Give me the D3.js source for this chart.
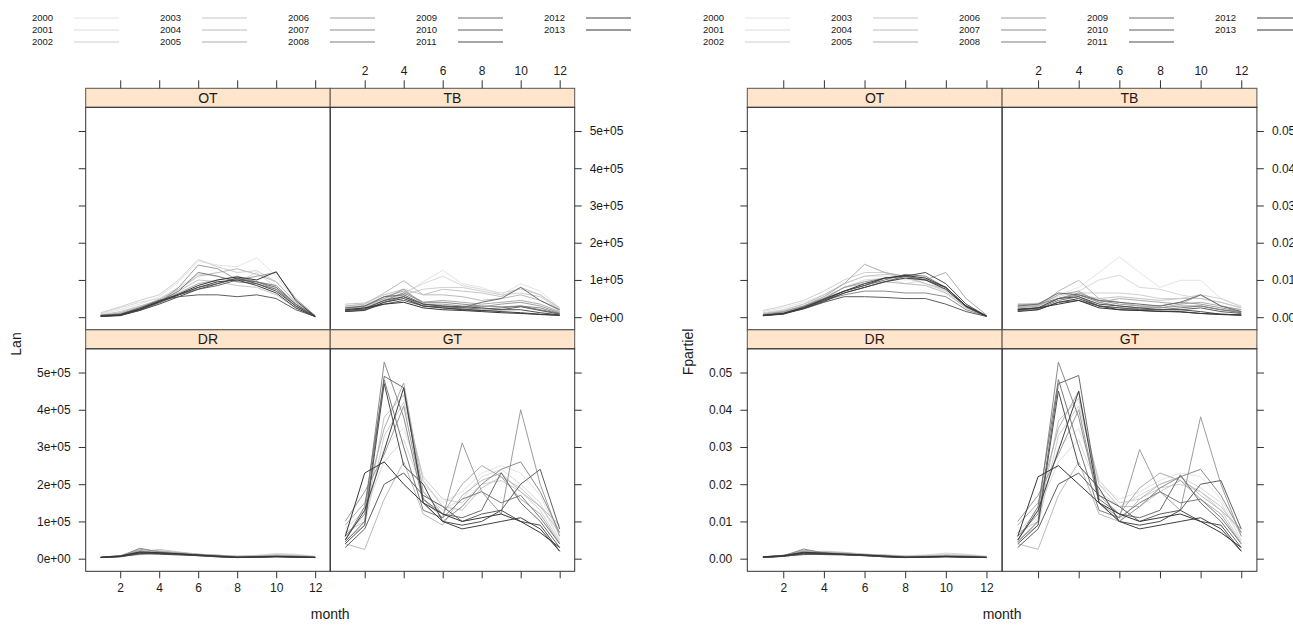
<!DOCTYPE html>
<html>
<head>
<meta charset="utf-8">
<script src="https://cdn.jsdelivr.net/npm/d3@7"></script>
<style>
  body { margin: 0; background: #fff; }
  text { font-family: "Liberation Sans", Arial, sans-serif; fill: #1a1a1a; }
</style>
</head>
<body>
<div id="chart"></div>
<script>
// ---- data -------------------------------------------------------------
const years = [2000, 2001, 2002, 2003, 2004, 2005, 2006, 2007, 2008, 2009, 2010, 2011, 2012, 2013];
const months = [1, 2, 3, 4, 5, 6, 7, 8, 9, 10, 11, 12];
const panels = ["OT", "TB", "DR", "GT"];

// Lan, in thousands (one row per year, 2000..2013)
const lanOT = [
  [8, 20, 35, 55, 95, 150, 140, 135, 160, 110, 45, 5],
  [10, 25, 40, 50, 80, 115, 110, 95, 120, 80, 30, 3],
  [12, 28, 45, 60, 100, 155, 135, 120, 125, 95, 40, 4],
  [6, 15, 30, 45, 70, 100, 95, 85, 80, 60, 25, 3],
  [5, 12, 28, 48, 75, 110, 120, 130, 115, 95, 40, 3],
  [4, 10, 25, 45, 65, 90, 100, 110, 95, 75, 35, 2],
  [5, 8, 20, 40, 80, 140, 130, 100, 110, 120, 50, 4],
  [4, 6, 18, 38, 60, 80, 90, 105, 95, 85, 35, 2],
  [3, 5, 20, 42, 70, 120, 110, 95, 90, 75, 30, 2],
  [3, 6, 22, 45, 60, 75, 85, 100, 95, 80, 35, 3],
  [5, 8, 25, 45, 55, 60, 60, 55, 60, 50, 20, 2],
  [2, 4, 18, 35, 55, 75, 90, 105, 90, 70, 30, 2],
  [2, 5, 20, 40, 60, 80, 95, 100, 85, 65, 25, 1],
  [3, 6, 22, 42, 62, 85, 100, 108, 100, 122, 45, 2]
];
const lanTB = [
  [30, 35, 55, 60, 95, 126, 90, 80, 60, 90, 70, 25],
  [28, 32, 50, 65, 90, 110, 85, 75, 65, 75, 60, 22],
  [25, 30, 45, 60, 75, 80, 80, 70, 60, 65, 55, 20],
  [35, 38, 60, 75, 60, 75, 70, 65, 55, 80, 60, 25],
  [30, 35, 65, 98, 60, 60, 55, 45, 50, 60, 45, 18],
  [25, 28, 55, 70, 40, 45, 40, 35, 40, 45, 35, 15],
  [22, 30, 50, 75, 35, 35, 30, 28, 35, 40, 30, 12],
  [20, 25, 45, 65, 40, 40, 35, 30, 28, 30, 25, 10],
  [18, 22, 40, 55, 30, 28, 25, 22, 25, 30, 20, 10],
  [25, 30, 55, 60, 35, 30, 25, 40, 50, 80, 45, 20],
  [15, 20, 35, 45, 30, 25, 22, 18, 20, 28, 18, 8],
  [18, 22, 45, 55, 35, 30, 28, 25, 20, 20, 12, 6],
  [15, 18, 40, 50, 30, 25, 20, 18, 15, 12, 8, 5],
  [20, 25, 35, 40, 25, 20, 18, 15, 12, 10, 7, 5]
];
const lanDR = [
  [3, 5, 10, 15, 12, 10, 8, 6, 8, 12, 10, 5],
  [4, 6, 12, 20, 14, 11, 9, 7, 9, 14, 12, 6],
  [3, 5, 15, 22, 16, 12, 10, 6, 7, 10, 8, 5],
  [4, 7, 18, 25, 18, 12, 9, 7, 8, 10, 9, 6],
  [3, 6, 20, 18, 15, 10, 8, 5, 6, 9, 8, 5],
  [4, 8, 25, 20, 16, 12, 9, 6, 7, 8, 7, 5],
  [3, 7, 22, 15, 14, 10, 7, 5, 6, 7, 6, 4],
  [3, 6, 28, 18, 12, 9, 7, 4, 5, 8, 6, 4],
  [4, 8, 18, 14, 12, 10, 8, 5, 5, 6, 5, 4],
  [3, 7, 15, 16, 14, 10, 6, 4, 5, 6, 5, 3],
  [3, 6, 12, 15, 12, 8, 5, 3, 4, 6, 5, 3],
  [3, 5, 14, 12, 10, 8, 5, 3, 4, 5, 4, 3],
  [3, 6, 16, 14, 12, 9, 6, 3, 4, 5, 4, 3],
  [4, 7, 18, 16, 13, 10, 7, 4, 5, 6, 5, 4]
];
const lanGT = [
  [60, 110, 300, 350, 200, 150, 180, 230, 250, 230, 170, 60],
  [80, 130, 260, 320, 180, 130, 160, 220, 240, 200, 150, 50],
  [50, 90, 330, 420, 220, 160, 150, 200, 210, 180, 130, 45],
  [70, 100, 380, 440, 210, 140, 130, 190, 220, 190, 140, 70],
  [40, 25, 160, 260, 120, 90, 170, 210, 230, 180, 140, 90],
  [90, 150, 350, 472, 180, 120, 200, 250, 220, 160, 120, 40],
  [100, 180, 280, 410, 160, 110, 311, 180, 120, 400, 200, 60],
  [60, 120, 528, 380, 150, 100, 140, 200, 240, 260, 180, 70],
  [50, 140, 480, 300, 130, 110, 160, 180, 150, 170, 110, 40],
  [45, 100, 490, 459, 160, 120, 110, 130, 231, 150, 100, 30],
  [30, 80, 200, 230, 170, 140, 100, 120, 130, 200, 240, 80],
  [40, 90, 470, 250, 200, 100, 90, 100, 130, 100, 90, 20],
  [50, 130, 290, 459, 150, 100, 80, 90, 100, 110, 80, 20],
  [60, 230, 260, 200, 150, 120, 100, 110, 120, 100, 70, 30]
];

// Fpartiel, in thousandths
const fpOT = [
  [1.5, 2.5, 4, 6, 9, 11, 11, 10, 10.5, 8, 3, 0.5],
  [1.2, 2, 3.5, 5.5, 8, 10, 10.5, 9, 10, 7, 2.5, 0.4],
  [1.8, 3, 4.5, 7, 10, 12, 12, 10.5, 9, 7, 3, 0.5],
  [1, 1.8, 3.5, 6, 9, 11, 11.5, 11, 9, 7.5, 3, 0.4],
  [0.8, 1.5, 3, 5, 8, 9, 9.5, 9, 8.5, 6.5, 2.5, 0.3],
  [0.8, 1.5, 3, 5.5, 9, 14.2, 12, 11, 10, 12, 5, 0.6],
  [0.7, 1.4, 3, 5, 8, 9.5, 10.5, 11, 10, 8, 3, 0.4],
  [0.6, 1.2, 2.5, 4.5, 6, 7, 7, 6.5, 6.5, 5.5, 2, 0.3],
  [0.5, 1, 2.8, 5, 7, 8.5, 10, 11.5, 11, 8, 3, 0.3],
  [0.5, 1, 2.5, 4.5, 6.5, 8, 9.5, 11, 10, 8, 3, 0.3],
  [0.5, 1, 2.2, 4, 5.5, 5.5, 5.3, 5, 5, 3.5, 1.5, 0.2],
  [0.4, 0.9, 2.5, 4.5, 7, 8.5, 10.5, 11, 12, 9, 3.5, 0.3],
  [0.4, 0.8, 2.3, 4.2, 6.5, 8, 9.5, 10.5, 10, 7.5, 2.8, 0.2],
  [0.5, 1, 2.6, 4.8, 7, 9, 10.5, 11.2, 10.5, 8, 3, 0.3]
];
const fpTB = [
  [3, 3.5, 6, 8, 12, 16.2, 12, 8, 9.9, 9.9, 5, 3],
  [3.2, 3.8, 5.5, 7, 10, 11.3, 8, 7.5, 6, 5, 4, 2.5],
  [2.5, 3, 5, 6.5, 6.5, 6.5, 6, 5, 5, 6, 5, 2.8],
  [2.8, 3.2, 5, 6, 5, 5.5, 5, 4.5, 5, 5, 4, 2.5],
  [3, 3, 7, 9.9, 5, 4, 3, 2.5, 3.5, 6, 3, 2],
  [2.5, 3, 6, 7, 4, 5, 4.5, 4, 3.5, 4, 3, 2],
  [2, 2.5, 5, 6.5, 4.5, 3.5, 3, 3, 4, 3.5, 2.5, 1.5],
  [3.5, 3.5, 5, 6, 4, 3, 2.5, 2.5, 3, 3, 2, 1.5],
  [2, 2.3, 4.5, 5.5, 3, 2.5, 2.2, 2, 2.5, 3, 2, 1.2],
  [3, 3.5, 6.5, 6, 4.5, 4, 3.5, 3, 4, 6, 3, 1.5],
  [1.8, 2, 4, 4.5, 3, 2.5, 2, 2, 2, 2.5, 1.5, 1],
  [2.2, 2.5, 5, 5.5, 3.5, 3, 2.5, 2, 2, 1.5, 0.8, 0.6],
  [1.5, 2, 4, 5, 3, 2, 1.8, 1.5, 1.5, 1, 0.7, 0.5],
  [2, 2.5, 3.5, 4.5, 2.5, 2, 1.8, 1.6, 1.4, 1, 0.8, 0.6]
];
const fpDR = [
  [0.4, 0.6, 1, 1.5, 1.3, 1.1, 0.9, 0.7, 0.9, 1.3, 1.1, 0.5],
  [0.5, 0.7, 1.2, 1.8, 1.5, 1.2, 1, 0.8, 1, 1.5, 1.2, 0.6],
  [0.4, 0.6, 1.6, 1.8, 1.6, 1.2, 1, 0.6, 0.7, 1, 0.8, 0.5],
  [0.5, 0.8, 1.8, 2, 1.7, 1.2, 0.9, 0.7, 0.8, 1, 0.9, 0.6],
  [0.4, 0.7, 2, 1.5, 1.4, 1, 0.8, 0.5, 0.6, 0.9, 0.8, 0.5],
  [0.5, 0.9, 2.3, 1.7, 1.5, 1.1, 0.9, 0.6, 0.7, 0.8, 0.7, 0.5],
  [0.4, 0.8, 2, 1.3, 1.3, 1, 0.7, 0.5, 0.6, 0.7, 0.6, 0.4],
  [0.3, 0.7, 2.6, 1.5, 1.1, 0.9, 0.7, 0.4, 0.5, 0.8, 0.6, 0.4],
  [0.5, 0.9, 1.7, 1.3, 1.1, 1, 0.8, 0.5, 0.5, 0.6, 0.5, 0.4],
  [0.4, 0.8, 1.4, 1.5, 1.3, 1, 0.6, 0.4, 0.5, 0.6, 0.5, 0.3],
  [0.3, 0.7, 1.1, 1.3, 1.1, 0.8, 0.5, 0.3, 0.4, 0.6, 0.5, 0.3],
  [0.3, 0.6, 1.3, 1.1, 1, 0.8, 0.5, 0.3, 0.4, 0.5, 0.4, 0.3],
  [0.4, 0.7, 1.5, 1.3, 1.1, 0.9, 0.6, 0.3, 0.4, 0.5, 0.4, 0.3],
  [0.5, 0.8, 1.7, 1.5, 1.2, 1, 0.7, 0.4, 0.5, 0.6, 0.5, 0.4]
];
const fpGT = [
  [6, 11, 30, 35, 20, 16, 18, 21, 23, 22, 16, 6],
  [7, 13, 26, 32, 18, 14, 17, 20, 22, 19, 15, 5],
  [5, 9, 33, 41, 21, 15, 16, 19, 20, 18, 13, 4.5],
  [7, 10, 37, 43, 20, 14, 14, 18, 21, 18, 14, 7],
  [4, 2.5, 17, 26, 12, 10, 16, 20, 22, 17, 13, 8],
  [9, 15, 35, 45, 17, 12, 19, 23, 21, 16, 12, 4],
  [10, 17, 28, 40, 15, 11, 29.3, 18, 13, 38.1, 20, 6],
  [6, 12, 52.8, 38, 15, 10, 14, 19, 22, 24, 17, 7],
  [5, 14, 48.1, 30, 13, 11, 15, 18, 15, 16, 11, 4],
  [4.5, 10, 47, 49.2, 16, 12, 11, 13, 22.5, 15, 10, 3],
  [3, 8, 20, 23, 17, 14, 10, 12, 13, 20, 21, 8],
  [4, 9, 45, 25, 19, 10, 9, 10, 13, 10, 9, 2],
  [5, 13, 29, 45, 15, 10, 8, 9, 10, 11, 8, 2],
  [6, 22, 25, 20, 15, 12, 10, 11, 12, 10, 7, 3]
];

const monthTicks = [2, 4, 6, 8, 10, 12];
const lanTicks = [0, 100, 200, 300, 400, 500];
const lanTickLabels = ["0e+00", "1e+05", "2e+05", "3e+05", "4e+05", "5e+05"];
const fpTicks = [0, 10, 20, 30, 40, 50];
const fpTickLabels = ["0.00", "0.01", "0.02", "0.03", "0.04", "0.05"];

// grey ramp, light (2000) to dark (2013)
const yearColors = ["#e4e4e4", "#dadada", "#d0d0d0", "#c5c5c5", "#bababa", "#acacac", "#9c9c9c",
                    "#8c8c8c", "#7c7c7c", "#6c6c6c", "#5e5e5e", "#4e4e4e", "#404040", "#353535"];

// ---- drawing ----------------------------------------------------------
const W = 1293, H = 626;
const svg = d3.select("#chart").append("svg")
  .attr("width", W).attr("height", H);

const stripH = 19, bodyH = 222.5, top0 = 88.3;
const border = "#555";

function styleAxis(a) {
  a.select(".domain").remove();
  a.selectAll("text").style("font-size", "12px").attr("fill", "#1a1a1a");
  a.selectAll("line").attr("stroke", "#333");
}

function drawChart(cfg) {
  const g = svg.append("g");
  const colW = cfg.colW;

  // legend
  years.forEach((yr, i) => {
    const lx = cfg.legendX + Math.floor(i / 3) * 128;
    const ly = 18 + (i % 3) * 12;
    g.append("text").attr("x", lx).attr("y", ly).attr("dy", "0.35em")
      .style("font-size", "9.5px").text(yr);
    g.append("line").attr("x1", lx + 42).attr("x2", lx + 87)
      .attr("y1", ly).attr("y2", ly)
      .attr("stroke", yearColors[i]).attr("stroke-width", 1);
  });

  panels.forEach((p, pi) => {
    const col = pi % 2, row = Math.floor(pi / 2);
    const x0 = cfg.left + col * colW;
    const sTop = top0 + row * (stripH + bodyH);
    const bTop = sTop + stripH, bBot = bTop + bodyH;

    const x = d3.scaleLinear().domain([0.23, 12.77]).range([x0, x0 + colW]);
    const y = d3.scaleLinear().domain(cfg.yDomain).range([bBot, bTop]);

    const line = d3.line().x((d, i) => x(months[i])).y(d => y(d));
    const pg = g.append("g");
    cfg.data[p].forEach((vals, i) => {
      pg.append("path").datum(vals).attr("d", line)
        .attr("fill", "none").attr("stroke", yearColors[i])
        .attr("stroke-width", 1).attr("stroke-linejoin", "round");
    });

    // strip
    g.append("rect").attr("x", x0).attr("y", sTop).attr("width", colW).attr("height", stripH)
      .attr("fill", "#ffe5cc").attr("stroke", border).attr("stroke-width", 1);
    g.append("text").attr("x", x0 + colW / 2).attr("y", sTop + stripH / 2).attr("dy", "0.36em")
      .attr("text-anchor", "middle").style("font-size", "14px").text(p);
    // panel box
    g.append("rect").attr("x", x0).attr("y", bTop).attr("width", colW).attr("height", bodyH)
      .attr("fill", "none").attr("stroke", "#333").attr("stroke-width", 1);

    // x axis ticks (top row: top edge, bottom row: bottom edge)
    if (row === 0) {
      const ax = d3.axisTop(x).tickValues(monthTicks).tickSize(8).tickPadding(5)
        .tickFormat(col === 1 ? d3.format("d") : "");
      styleAxis(g.append("g").attr("transform", `translate(0,${sTop})`).call(ax));
    } else {
      const ax = d3.axisBottom(x).tickValues(monthTicks).tickSize(7).tickPadding(5)
        .tickFormat(col === 0 ? d3.format("d") : "");
      styleAxis(g.append("g").attr("transform", `translate(0,${bBot})`).call(ax));
    }

    // y axis ticks (left column: left edge, right column: right edge)
    if (col === 0) {
      const ay = d3.axisLeft(y).tickValues(cfg.yTicks).tickSize(7).tickPadding(8)
        .tickFormat((d, i) => row === 1 ? cfg.yTickLabels[i] : "");
      styleAxis(g.append("g").attr("transform", `translate(${x0},0)`).call(ay));
    } else {
      const ay = d3.axisRight(y).tickValues(cfg.yTicks).tickSize(7).tickPadding(8)
        .tickFormat((d, i) => row === 0 ? cfg.yTickLabels[i] : "");
      styleAxis(g.append("g").attr("transform", `translate(${x0 + colW},0)`).call(ay));
    }
  });

  // axis titles
  g.append("text").attr("x", cfg.left + colW).attr("y", 619).attr("text-anchor", "middle")
    .style("font-size", "14px").text("month");
  g.append("text").attr("transform", `translate(${cfg.ylabX},${cfg.ylabY}) rotate(-90)`)
    .attr("text-anchor", "middle").style("font-size", "14px").text(cfg.ylab);
}

drawChart({
  left: 85.7, colW: 244.5, legendX: 32,
  data: { OT: lanOT, TB: lanTB, DR: lanDR, GT: lanGT },
  yDomain: [-33.9, 563.7], yTicks: lanTicks, yTickLabels: lanTickLabels,
  ylab: "Lan", ylabX: 21, ylabY: 344
});

drawChart({
  left: 747.3, colW: 254.8, legendX: 703,
  data: { OT: fpOT, TB: fpTB, DR: fpDR, GT: fpGT },
  yDomain: [-3.39, 56.37], yTicks: fpTicks, yTickLabels: fpTickLabels,
  ylab: "Fpartiel", ylabX: 693, ylabY: 352
});
</script>
</body>
</html>
